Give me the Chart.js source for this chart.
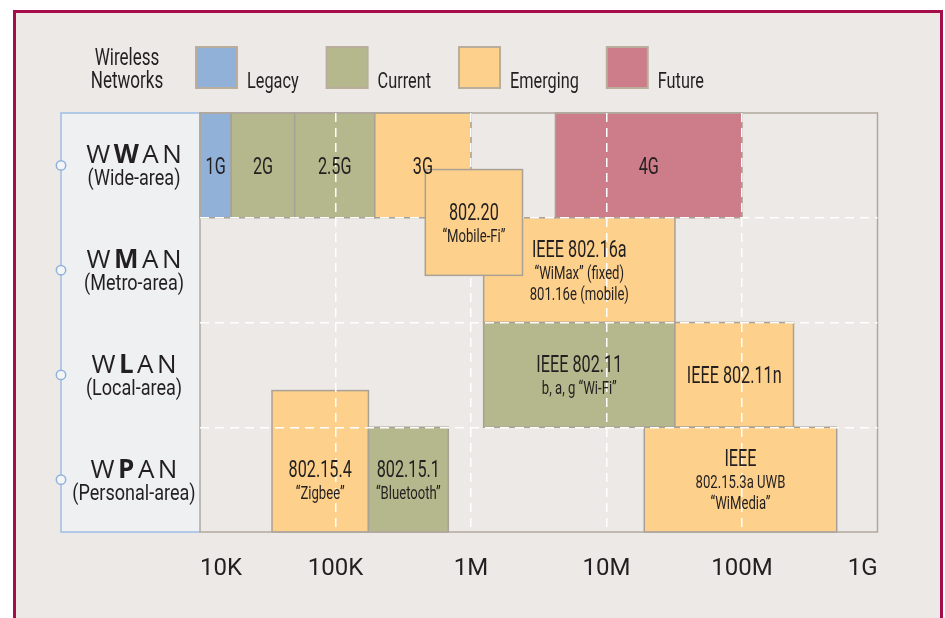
<!DOCTYPE html>
<html lang="en">
<head>
<meta charset="UTF-8">
<title>Wireless Networks</title>
<style>
  html, body { margin: 0; padding: 0; background: #ffffff; }
  #wrap { position: relative; width: 945px; height: 618px; overflow: hidden; }
  #frame { position: absolute; left: 13px; top: 10px; width: 924px; height: 640px;
           border: 3px solid #a50d4b; background: #ede9e6; }
  canvas { position: absolute; left: 0; top: 0; }
</style>
</head>
<body>
<div id="wrap">
  <div id="frame"></div>
  <canvas id="chart" width="945" height="618"></canvas>
</div>
<script src="https://cdn.jsdelivr.net/npm/chart.js"></script>
<script>
const rowCodes = ['WWAN', 'WMAN', 'WLAN', 'WPAN'];
const rowNames = ['(Wide-area)', '(Metro-area)', '(Local-area)', '(Personal-area)'];
const statusNames = ['Legacy', 'Current', 'Emerging', 'Future'];
const rateTicks = [1e4, 1e5, 1e6, 1e7, 1e8, 1e9];
const rateTickLabels = ['10K', '100K', '1M', '10M', '100M', '1G'];

// one entry per technology: data rate span in bit/s, rows counted from the top (0..4)
const techLabels = [
    ['1G'], ['2G'], ['2.5G'], ['3G'], ['4G'],
    ['IEEE 802.16a', '\u201cWiMax\u201d (fixed)', '801.16e (mobile)'],
    ['IEEE 802.11', 'b, a, g \u201cWi-Fi\u201d'],
    ['IEEE 802.11n'],
    ['802.15.4', '\u201cZigbee\u201d'],
    ['802.15.1', '\u201cBluetooth\u201d'],
    ['IEEE', '802.15.3a UWB', '\u201cWiMedia\u201d'],
    ['802.20', '\u201cMobile-Fi\u201d']
];
const techStatus = ['Legacy', 'Current', 'Current', 'Emerging', 'Future',
    'Emerging', 'Current', 'Emerging', 'Emerging', 'Current', 'Emerging', 'Emerging'];
const rateFrom = [1e4, 17e3, 50e3, 195e3, 4.2e6, 1.24e6, 1.24e6, 32e6, 34e3, 175e3, 19e6, 460e3];
const rateTo = [17e3, 50e3, 195e3, 1e6, 1e8, 32e6, 32e6, 240e6, 175e3, 680e3, 500e6, 2.4e6];
const rowFrom = [0, 0, 0, 0, 0, 1, 2, 2, 2.65, 3, 3, 0.54];
const rowTo = [1, 1, 1, 1, 1, 2, 3, 3, 4, 4, 4, 1.55];
const overGrid = [false, false, false, false, false, false, false, false, false, false, false, true];

const colors = { Legacy: '#91b1d9', Current: '#b4b88c', Emerging: '#fdd18b', Future: '#cd7c89' };
const NARROW = '"Roboto", sans-serif';
const WIDE = '"Open Sans", "DejaVu Sans", sans-serif';
const INK = '#231f20';

function narrowText(ctx, text, x, y, size, squeeze, align) {
    ctx.save();
    ctx.font = size + 'px ' + NARROW;
    ctx.fillStyle = INK;
    ctx.textAlign = align || 'center';
    ctx.textBaseline = 'alphabetic';
    ctx.translate(x, y);
    ctx.scale(squeeze, 1);
    ctx.fillText(text, 0, 0);
    ctx.restore();
}
function narrowWidth(ctx, text, size, squeeze) {
    ctx.save();
    ctx.font = size + 'px ' + NARROW;
    const w = ctx.measureText(text).width * squeeze;
    ctx.restore();
    return w;
}

function drawBox(ctx, chart, i) {
    const x = chart.scales.x, y = chart.scales.y;
    const x0 = x.getPixelForValue(rateFrom[i]), x1 = x.getPixelForValue(rateTo[i]);
    const y0 = y.getPixelForValue(rowFrom[i]), y1 = y.getPixelForValue(rowTo[i]);
    ctx.save();
    ctx.fillStyle = colors[techStatus[i]];
    ctx.fillRect(x0, y0, x1 - x0, y1 - y0);
    ctx.strokeStyle = '#aaa196';
    ctx.lineWidth = 1.5;
    ctx.strokeRect(x0, y0, x1 - x0, y1 - y0);
    ctx.restore();
}

function drawBoxText(ctx, chart, i) {
    const x = chart.scales.x, y = chart.scales.y;
    const cx = (x.getPixelForValue(rateFrom[i]) + x.getPixelForValue(rateTo[i])) / 2;
    // text sits in the middle of the last row the block reaches
    const top = y.getPixelForValue(Math.max(rowFrom[i], rowTo[i] - 1));
    const cy = (top + y.getPixelForValue(rowTo[i])) / 2;
    const lines = techLabels[i];
    const cap = 16.5;
    const h = cap + (lines.length > 1 ? 22 + 21 * (lines.length - 2) : 0);
    let base = cy - h / 2 + cap;
    lines.forEach((t, k) => {
        narrowText(ctx, t, cx, base, k === 0 ? 23.5 : 19, 0.69);
        base += k === 0 ? 22 : 21;
    });
}

const diagram = {
    id: 'diagram',
    beforeDraw(chart) {
        const ctx = chart.ctx, a = chart.chartArea;
        const panelLeft = 61;
        ctx.save();
        ctx.fillStyle = '#eff0f2';
        ctx.fillRect(panelLeft, a.top, a.left - panelLeft, a.bottom - a.top);
        ctx.strokeStyle = '#9ebde3';
        ctx.lineWidth = 1.5;
        ctx.beginPath();
        ctx.moveTo(a.left, a.top); ctx.lineTo(panelLeft, a.top);
        ctx.lineTo(panelLeft, a.bottom); ctx.lineTo(a.left, a.bottom);
        ctx.stroke();
        ctx.restore();

        techLabels.forEach((_, i) => { if (!overGrid[i]) drawBox(ctx, chart, i); });

        ctx.save();
        ctx.strokeStyle = '#b0a89e';
        ctx.lineWidth = 1.5;
        ctx.strokeRect(a.left, a.top, a.right - a.left, a.bottom - a.top);
        ctx.restore();
    },
    beforeDatasetsDraw(chart) {
        const ctx = chart.ctx, a = chart.chartArea, y = chart.scales.y;
        techLabels.forEach((_, i) => { if (overGrid[i]) drawBox(ctx, chart, i); });
        techLabels.forEach((_, i) => drawBoxText(ctx, chart, i));

        // row titles in the left panel
        const panelLeft = 61;
        const cx = (panelLeft + a.left) / 2 + 3.5;
        rowCodes.forEach((code, r) => {
            const cy = y.getPixelForValue(r + 0.5);
            const spacing = 3.5;
            ctx.save();
            ctx.fillStyle = INK;
            ctx.textBaseline = 'alphabetic';
            const fonts = code.split('').map((c, k) => (k === 1 ? 'bold ' : '') + '26px ' + WIDE);
            let total = 0;
            code.split('').forEach((c, k) => { ctx.font = fonts[k]; total += ctx.measureText(c).width; });
            total += spacing * (code.length - 1);
            let px = cx - total / 2;
            code.split('').forEach((c, k) => {
                ctx.font = fonts[k];
                ctx.fillText(c, px, cy - 2);
                px += ctx.measureText(c).width + spacing;
            });
            ctx.restore();
            narrowText(ctx, rowNames[r], cx, cy + 20, 22, 0.82);

            ctx.save();
            ctx.beginPath();
            ctx.arc(panelLeft, cy, 4.7, 0, Math.PI * 2);
            ctx.fillStyle = '#f4f5f7';
            ctx.fill();
            ctx.strokeStyle = '#8fb2dd';
            ctx.lineWidth = 1.5;
            ctx.stroke();
            ctx.restore();
        });

        // legend
        narrowText(ctx, 'Wireless', 127, 65, 24, 0.71);
        narrowText(ctx, 'Networks', 127, 88, 24, 0.71);
        let lx = 196;
        statusNames.forEach(name => {
            ctx.save();
            ctx.fillStyle = colors[name];
            ctx.fillRect(lx, 47, 41, 41);
            ctx.strokeStyle = '#b9ad9b';
            ctx.lineWidth = 2;
            ctx.strokeRect(lx, 47, 41, 41);
            ctx.restore();
            narrowText(ctx, name, lx + 51, 88, 22, 0.74, 'left');
            lx += 51 + narrowWidth(ctx, name, 22, 0.74) + 28;
        });
    }
};

new Chart(document.getElementById('chart'), {
    type: 'scatter',
    data: { datasets: [{ data: [] }] },
    options: {
        responsive: false,
        animation: false,
        layout: { padding: { left: 200, right: 67.5, top: 113, bottom: 0 } },
        plugins: { legend: { display: false }, tooltip: { enabled: false } },
        scales: {
            x: {
                type: 'logarithmic',
                position: 'bottom',
                min: rateTicks[0],
                max: rateTicks[rateTicks.length - 1],
                afterBuildTicks: s => { s.ticks = rateTicks.map(v => ({ value: v })); },
                afterFit: s => { s.height = 86; },
                ticks: {
                    callback: v => rateTickLabels[rateTicks.indexOf(v)],
                    align: 'inner',
                    autoSkip: false,
                    maxRotation: 0,
                    padding: 23,
                    color: INK,
                    font: { family: NARROW, size: 24 }
                },
                grid: {
                    drawTicks: false,
                    lineWidth: 1.5,
                    color: c => (c.tick && c.tick.value > rateTicks[0] && c.tick.value < rateTicks[rateTicks.length - 1]) ? '#ffffff' : 'rgba(0,0,0,0)'
                },
                border: { display: false, dash: [9, 6] }
            },
            y: {
                type: 'linear',
                min: 0,
                max: rowCodes.length,
                reverse: true,
                afterBuildTicks: s => { s.ticks = [0, 1, 2, 3, 4].map(v => ({ value: v })); },
                afterFit: s => { s.width = 0; },
                ticks: { display: false },
                grid: {
                    drawTicks: false,
                    lineWidth: 1.5,
                    color: c => (c.tick && c.tick.value > 0 && c.tick.value < rowCodes.length) ? '#ffffff' : 'rgba(0,0,0,0)'
                },
                border: { display: false, dash: [9, 6] }
            }
        }
    },
    plugins: [diagram]
});
</script>
</body>
</html>
